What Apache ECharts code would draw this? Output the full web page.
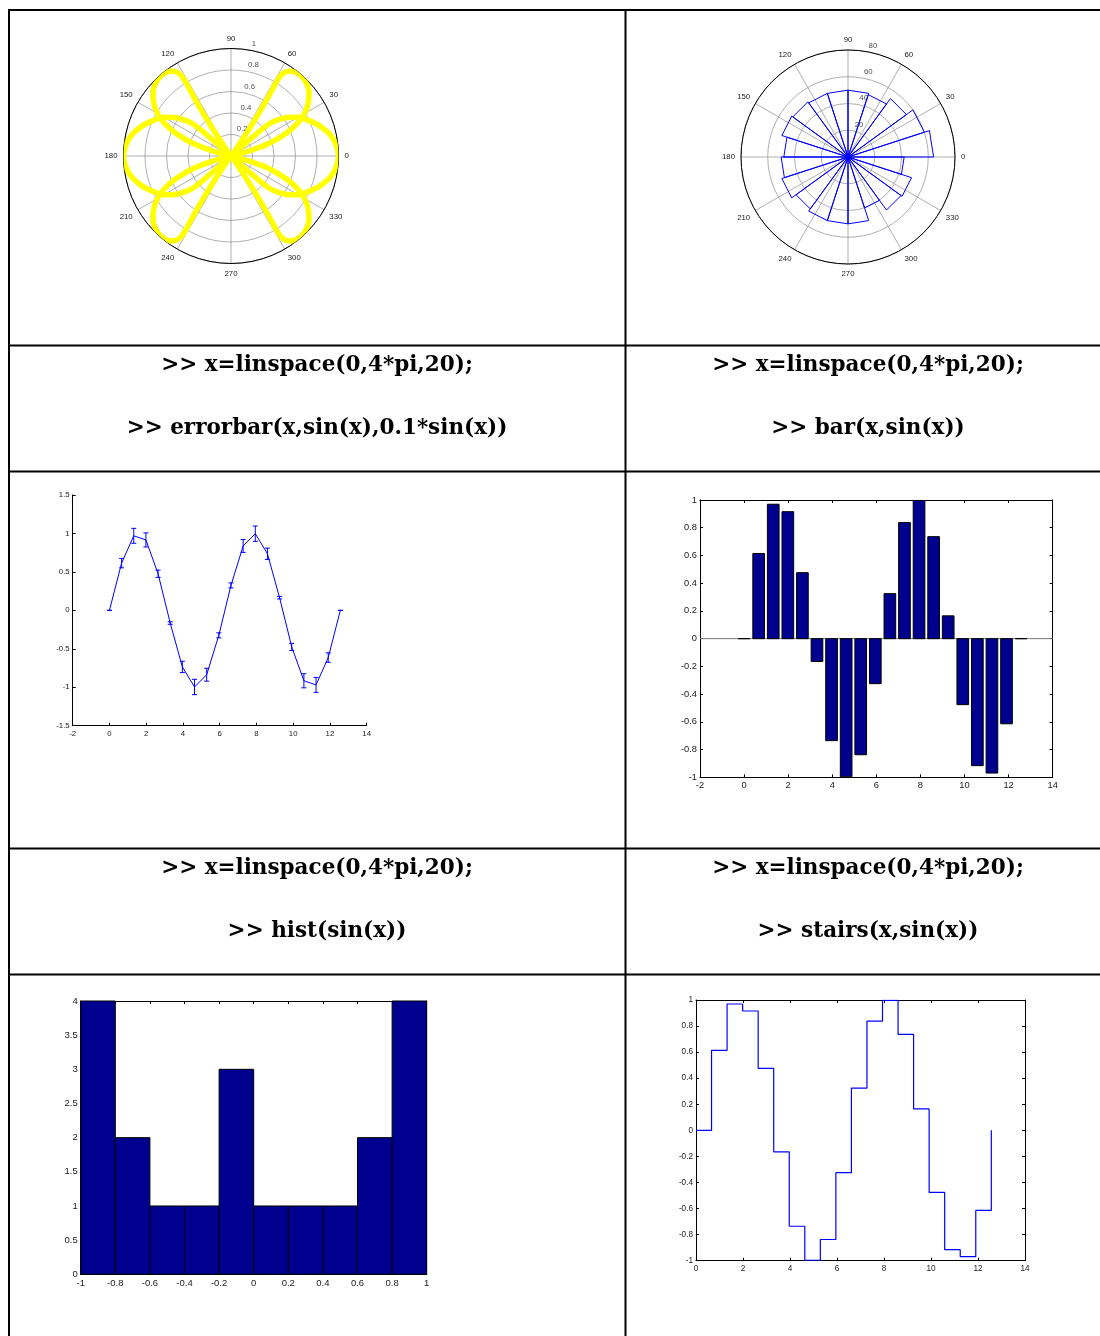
<!DOCTYPE html>
<html><head><meta charset="utf-8">
<script src="https://cdn.jsdelivr.net/npm/echarts@6/dist/echarts.min.js"></script>
<style>html,body{margin:0;padding:0;background:#fff}#c{width:1100px;height:1336px}</style>
</head><body><div id="c"></div>
<script>
// ---- data ----
const xVals = [0, 0.6614, 1.3228, 1.9842, 2.6456, 3.3069, 3.9683, 4.6297, 5.2911, 5.9525,
  6.6139, 7.2753, 7.9367, 8.5981, 9.2595, 9.9208, 10.5822, 11.2436, 11.9050, 12.5664];
const sinVals = [0, 0.6142, 0.9694, 0.9158, 0.4759, -0.1646, -0.7357, -0.9966, -0.8372, -0.3247,
  0.3247, 0.8372, 0.9966, 0.7357, 0.1646, -0.4759, -0.9158, -0.9694, -0.6142, 0];
const errVals = [0, 0.0614, 0.0969, 0.0916, 0.0476, 0.0165, 0.0736, 0.0997, 0.0837, 0.0325,
  0.0325, 0.0837, 0.0997, 0.0736, 0.0165, 0.0476, 0.0916, 0.0969, 0.0614, 0];
const histEdges = [-1, -0.8, -0.6, -0.4, -0.2, 0, 0.2, 0.4, 0.6, 0.8, 1];
const histCounts = [4, 2, 1, 1, 3, 1, 1, 1, 2, 4];
const roseEdges = [0, 18, 36, 54, 72, 90, 108, 126, 144, 162, 180, 198, 216, 234, 252, 270, 288, 306, 324, 342, 360];
const roseCounts = [64, 60, 54, 49, 50, 50, 50, 51, 52, 48, 50, 52, 48, 50, 50, 50, 40, 49, 50, 42];
const ringLabels1 = [0.2, 0.4, 0.6, 0.8, 1];
const ringLabels2 = [20, 40, 60, 80];
// yellow polar curve, traced as [radius, angleDeg]
const loopRight = [[0,318.5],[0.3,319],[0.47,320],[0.57,323],[0.64,326],[0.72,330],[0.79,335],[0.88,342],[0.96,350],[1,360],
  [0.96,370],[0.88,378],[0.79,385],[0.72,390],[0.64,394],[0.57,397],[0.47,400],[0.3,401],[0,401.5]];
const loopLeft = [[0,138.5],[0.3,139],[0.47,140],[0.57,143],[0.64,146],[0.72,150],[0.79,155],[0.88,162],[0.96,170],[1,180],
  [0.96,190],[0.88,198],[0.79,205],[0.72,210],[0.64,214],[0.57,217],[0.47,220],[0.3,221],[0,221.5]];
const loopUR = [[0,14],[0.2,16],[0.38,18.5],[0.56,22.5],[0.7,26.5],[0.8,30.5],[0.88,35],[0.94,39.5],[0.975,44],[0.99,48],
  [0.985,52],[0.96,55.5],[0.9,58],[0.82,58.5],[0.7,58],[0.5,57],[0.3,56],[0.12,55],[0,55]];
const loopUL = [[0,166],[0.2,164],[0.38,161.5],[0.56,157.5],[0.7,153.5],[0.8,149.5],[0.88,145],[0.94,140.5],[0.975,136],[0.99,132],
  [0.985,128],[0.96,124.5],[0.9,122],[0.82,121.5],[0.7,122],[0.5,123],[0.3,124],[0.12,125],[0,125]];
const loopLL = [[0,194],[0.2,196],[0.38,198.5],[0.56,202.5],[0.7,206.5],[0.8,210.5],[0.88,215],[0.94,219.5],[0.975,224],[0.99,228],
  [0.985,232],[0.96,235.5],[0.9,238],[0.82,238.5],[0.7,238],[0.5,237],[0.3,236],[0.12,235],[0,235]];
const loopLR = [[0,346],[0.2,344],[0.38,341.5],[0.56,337.5],[0.7,333.5],[0.8,329.5],[0.88,325],[0.94,320.5],[0.975,316],[0.99,312],
  [0.985,308],[0.96,304.5],[0.9,302],[0.82,301.5],[0.7,302],[0.5,303],[0.3,304],[0.12,305],[0,305]];

// ---- styles ----
const TXT = '#1a1a1a';
const AX_FONT = 'Liberation Sans, Arial, sans-serif';
const NAVY = '#00008f';
const BLUE = '#0000ff';

function xAx(grid, min, max, interval, fs, pos, labels, margin) {
  return { gridIndex: grid, type: 'value', min, max, interval, position: pos,
    axisLine: { show: true, onZero: false, lineStyle: { color: '#000', width: 1 } },
    axisTick: { show: true, inside: true, length: 3, lineStyle: { color: '#000', width: 1 } },
    axisLabel: { show: labels, fontSize: fs, color: TXT, margin: margin || 4, fontFamily: AX_FONT, showMinLabel: true, showMaxLabel: true },
    splitLine: { show: false } };
}
function yAx(grid, min, max, interval, fs, pos, labels) {
  return { gridIndex: grid, type: 'value', min, max, interval, position: pos,
    axisLine: { show: true, onZero: false, lineStyle: { color: '#000', width: 1 } },
    axisTick: { show: true, inside: true, length: 3, lineStyle: { color: '#000', width: 1 } },
    axisLabel: { show: labels, fontSize: fs, color: TXT, margin: 3, fontFamily: AX_FONT, showMinLabel: true, showMaxLabel: true },
    splitLine: { show: false } };
}

const grids = [
  { left: 72.7, top: 495, width: 294, height: 230.7 },     // errorbar
  { left: 700, top: 500, width: 352.7, height: 277.3 },    // bar
  { left: 80.7, top: 1001, width: 346, height: 273.3 },    // hist
  { left: 696, top: 1000, width: 329, height: 260.7 }      // stairs
];

const xAxes = [
  xAx(0, -2, 14, 2, 7.8, 'bottom', true, 4),
  xAx(1, -2, 14, 2, 9.3, 'bottom', true, 4), xAx(1, -2, 14, 2, 9.3, 'top', false),
  xAx(2, -1, 1, 0.2, 9.5, 'bottom', true, 4), xAx(2, -1, 1, 0.2, 9.5, 'top', false),
  xAx(3, 0, 14, 2, 8.2, 'bottom', true, 4.5), xAx(3, 0, 14, 2, 8.2, 'top', false)
];
const yAxes = [
  yAx(0, -1.5, 1.5, 0.5, 7.8, 'left', true),
  yAx(1, -1, 1, 0.2, 9.3, 'left', true), yAx(1, -1, 1, 0.2, 9.3, 'right', false),
  yAx(2, 0, 4, 0.5, 9.5, 'left', true), yAx(2, 0, 4, 0.5, 9.5, 'right', false),
  yAx(3, -1, 1, 0.2, 8.2, 'left', true), yAx(3, -1, 1, 0.2, 8.2, 'right', false)
];

function angleAx(pi) {
  return { polarIndex: pi, type: 'value', min: 0, max: 360, interval: 30, startAngle: 0, clockwise: false,
    axisLine: { show: true, lineStyle: { color: '#000', width: 1 } },
    axisTick: { show: false },
    axisLabel: { margin: 6, fontSize: 7.8, color: TXT, fontFamily: AX_FONT },
    splitLine: { show: true, lineStyle: { color: '#9a9a9a', width: 0.8 } } };
}
function radiusAx(pi, max, interval) {
  return { polarIndex: pi, type: 'value', min: 0, max, interval,
    axisLine: { show: false }, axisTick: { show: false }, axisLabel: { show: false },
    splitLine: { show: true, lineStyle: { color: '#9a9a9a', width: 0.8 } } };
}

const yellowLoops = [loopRight, loopLeft, loopUR, loopUL, loopLL, loopLR].map(d => ({
  type: 'line', coordinateSystem: 'polar', polarIndex: 0, data: d, showSymbol: false, smooth: 0.35,
  lineStyle: { color: '#ffff00', width: 5.5 }, z: 5, silent: true }));

const roseData = [];
roseCounts.forEach((c, i) => {
  roseData.push([0, roseEdges[i]], [c, roseEdges[i]], [c, roseEdges[i + 1]], [0, roseEdges[i + 1]]);
});

function ringLabelSeries(pi, vals) {
  return { type: 'scatter', coordinateSystem: 'polar', polarIndex: pi, data: vals.map(v => [v, 80]),
    symbolSize: 0, silent: true, z: 3,
    label: { show: true, formatter: p => String(p.value[0]), position: [2, -6], align: 'left', verticalAlign: 'middle',
      fontSize: 7.8, color: TXT, fontFamily: AX_FONT } };
}

const series = [
  ...yellowLoops,
  ringLabelSeries(0, ringLabels1),
  { type: 'line', coordinateSystem: 'polar', polarIndex: 1, data: roseData, showSymbol: false,
    lineStyle: { color: BLUE, width: 1 }, z: 5, silent: true },
  ringLabelSeries(1, ringLabels2),
  // errorbar
  { type: 'line', xAxisIndex: 0, yAxisIndex: 0, data: xVals.map((x, i) => [x, sinVals[i]]), showSymbol: false,
    lineStyle: { color: BLUE, width: 1 }, silent: true },
  { type: 'custom', xAxisIndex: 0, yAxisIndex: 0, encode: { x: 0, y: 1 },
    data: xVals.map((x, i) => [x, sinVals[i], errVals[i]]), silent: true,
    renderItem: (params, api) => {
      const x = api.value(0), y = api.value(1), e = api.value(2);
      const t = api.coord([x, y + e]), b = api.coord([x, y - e]);
      const w = 2.5, st = { stroke: BLUE, lineWidth: 1 };
      return { type: 'group', children: [
        { type: 'line', shape: { x1: t[0], y1: t[1], x2: b[0], y2: b[1] }, style: st },
        { type: 'line', shape: { x1: t[0] - w, y1: t[1], x2: t[0] + w, y2: t[1] }, style: st },
        { type: 'line', shape: { x1: b[0] - w, y1: b[1], x2: b[0] + w, y2: b[1] }, style: st } ] };
    } },
  // bar baseline
  { type: 'line', xAxisIndex: 1, yAxisIndex: 1, data: [[-2, 0], [14, 0]], showSymbol: false,
    lineStyle: { color: '#7a7a7a', width: 1 }, silent: true, z: 1 },
  // bar
  { type: 'custom', xAxisIndex: 1, yAxisIndex: 1, encode: { x: 0, y: 1 }, z: 3,
    data: xVals.map((x, i) => [x, sinVals[i]]), silent: true,
    renderItem: (params, api) => {
      const x = api.value(0), y = api.value(1);
      const half = api.size([0.529, 0])[0] / 2;
      const p = api.coord([x, y]), b = api.coord([x, 0]);
      return { type: 'rect', shape: { x: p[0] - half, y: Math.min(p[1], b[1]), width: half * 2, height: Math.abs(b[1] - p[1]) },
        style: { fill: NAVY, stroke: '#000', lineWidth: 1 } };
    } },
  // hist
  { type: 'custom', xAxisIndex: 3, yAxisIndex: 3, encode: { x: [0, 1], y: 2 }, z: 3,
    data: histCounts.map((c, i) => [histEdges[i], histEdges[i + 1], c]), silent: true,
    renderItem: (params, api) => {
      const p0 = api.coord([api.value(0), api.value(2)]), p1 = api.coord([api.value(1), 0]);
      return { type: 'rect', shape: { x: p0[0], y: p0[1], width: p1[0] - p0[0], height: p1[1] - p0[1] },
        style: { fill: NAVY, stroke: '#000', lineWidth: 1 } };
    } },
  // stairs
  { type: 'line', xAxisIndex: 5, yAxisIndex: 5, step: 'end', data: xVals.map((x, i) => [x, sinVals[i]]),
    showSymbol: false, lineStyle: { color: BLUE, width: 1.2 }, silent: true }
];

// table and captions
const LW = 2;
function hLine(y, x1, x2) { return { type: 'line', shape: { x1, y1: y, x2, y2: y }, style: { stroke: '#000', lineWidth: LW }, z: 100 }; }
function vLine(x, y1, y2) { return { type: 'line', shape: { x1: x, y1, x2: x, y2 }, style: { stroke: '#000', lineWidth: LW }, z: 100 }; }
function cap(text, x, y) {
  return { type: 'text', x, y, z: 100, style: { text, fill: '#000', fontSize: 21.5, fontWeight: 'bold',
    fontFamily: 'DejaVu Serif, serif', align: 'center', verticalAlign: 'middle' } };
}
const graphics = [
  hLine(10, 8, 1100), hLine(345.5, 8, 1100), hLine(471.5, 8, 1100), hLine(848.5, 8, 1100), hLine(974.5, 8, 1100),
  vLine(9, 9, 1336), vLine(625.5, 9, 1336),
  cap('>> x=linspace(0,4*pi,20);', 317, 365), cap('>> errorbar(x,sin(x),0.1*sin(x))', 317, 428),
  cap('>> x=linspace(0,4*pi,20);', 868, 365), cap('>> bar(x,sin(x))', 868, 428),
  cap('>> x=linspace(0,4*pi,20);', 317, 868), cap('>> hist(sin(x))', 317, 931),
  cap('>> x=linspace(0,4*pi,20);', 868, 868), cap('>> stairs(x,sin(x))', 868, 931)
];

const chart = echarts.init(document.getElementById('c'), null, { renderer: 'canvas' });
chart.setOption({
  animation: false,
  backgroundColor: '#fff',
  polar: [{ center: [231, 156], radius: 107.5 }, { center: [848, 157], radius: 107 }],
  angleAxis: [angleAx(0), angleAx(1)],
  radiusAxis: [radiusAx(0, 1, 0.2), radiusAx(1, 80, 20)],
  grid: grids,
  xAxis: xAxes,
  yAxis: yAxes,
  series,
  graphic: graphics
});
</script></body></html>
